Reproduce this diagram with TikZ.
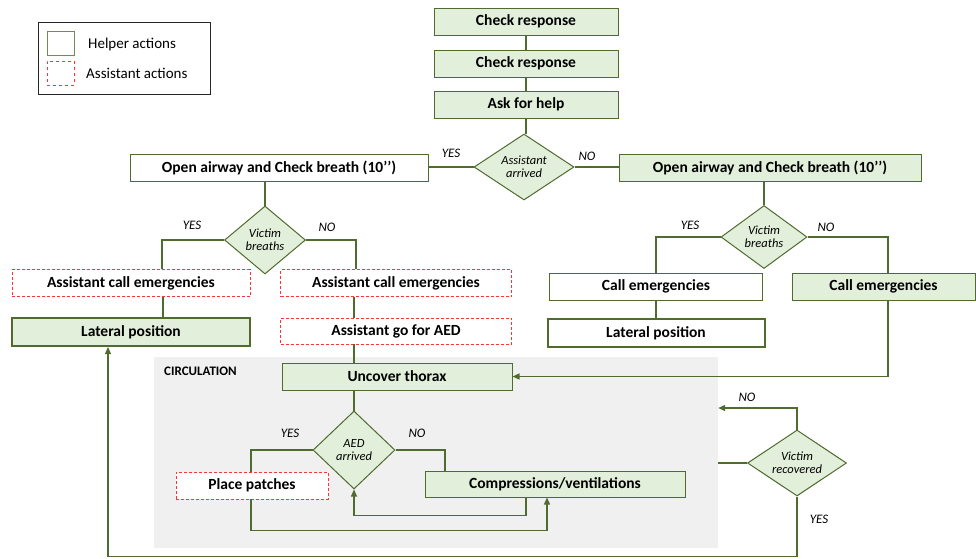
\documentclass[tikz,border=0pt]{standalone}
\usepackage{fontspec}
\setmainfont{Carlito}
\usetikzlibrary{shapes.geometric,arrows.meta}
\definecolor{edge}{HTML}{4F6B2E}
\definecolor{leaf}{HTML}{E2EFDA}
\definecolor{assist}{HTML}{FF3333}
\definecolor{panel}{HTML}{F0F0F0}
\begin{document}
\begin{tikzpicture}[x=1pt,y=-1pt,
  base/.style={rectangle, draw=edge, line width=1pt, inner sep=0pt,
    font=\bfseries\fontsize{15.5}{17}\selectfont},
  helper/.style={base, fill=leaf},
  plainbox/.style={base, fill=white},
  strong/.style={line width=2pt},
  assistbox/.style={base, draw=assist, dashed, dash pattern=on 3pt off 2pt, line width=0.8pt, fill=white},
  decision/.style={diamond, draw=edge, fill=leaf, line width=1pt, inner sep=0pt,
    align=center, font=\itshape\fontsize{12.5}{13}\selectfont},
  conn/.style={draw=edge, line width=1.3pt},
  arr/.style={conn, -{Triangle[length=7pt,width=6pt]}},
  tag/.style={font=\itshape\fontsize{13}{14}\selectfont, inner sep=0pt},
]
\useasboundingbox (0,0) rectangle (976,558);

% legend
\node (legend) [rectangle, draw=black!85, line width=0.8pt, minimum width=172, minimum height=72] at (124,58) {};
\node (lgh) [rectangle, draw=edge!80, line width=1pt, fill=white, minimum width=27, minimum height=24] at (60.5,43) {};
\node (lga) [rectangle, draw=assist, dashed, line width=0.8pt, minimum width=27, minimum height=24] at (60.5,73) {};
\node (lght) [anchor=west, font=\fontsize{15}{16}\selectfont, inner sep=0pt] at (88,44) {Helper actions};
\node (lgat) [anchor=west, font=\fontsize{15}{16}\selectfont, inner sep=0pt] at (86,73) {Assistant actions};

% circulation panel
\node (circ) [rectangle, fill=panel, minimum width=564, minimum height=191, inner sep=0pt] at (436,452.5) {};
\node (circlabel) [anchor=west, font=\bfseries\fontsize{13}{14}\selectfont, inner sep=0pt] at (164,371) {CIRCULATION};

% top sequence
\node (cr1) [helper, minimum width=184, minimum height=27] at (526,21.5) {Check response};
\node (cr2) [helper, minimum width=184, minimum height=27] at (526,63.5) {Check response};
\node (help) [helper, minimum width=184, minimum height=27] at (526,104.5) {Ask for help};
\node (aa) [decision, shape aspect=1.5, minimum width=100, minimum height=66] at (524,167) {Assistant\\arrived};

\node (oaL) [plainbox, minimum width=298, minimum height=27] at (279,167.5) {Open airway and Check breath (10’’)};
\node (oaR) [helper, minimum width=302, minimum height=27] at (770,167.5) {Open airway and Check breath (10’’)};

% left branch
\node (vbL) [decision, shape aspect=1.2, minimum width=81, minimum height=68] at (265,240) {Victim\\breaths};
\node (aceL) [assistbox, minimum width=238, minimum height=27] at (131,283) {Assistant call emergencies};
\node (latL) [helper, strong, minimum width=238, minimum height=28] at (131,332) {Lateral position};
\node (aceR) [assistbox, minimum width=231, minimum height=27] at (396,283) {Assistant call emergencies};
\node (aed) [assistbox, minimum width=231, minimum height=26] at (396,331) {Assistant go for AED};

% right branch
\node (vbR) [decision, shape aspect=1.35, minimum width=86, minimum height=63] at (764,237) {Victim\\breaths};
\node (ceR1) [plainbox, minimum width=213, minimum height=27] at (656,286.5) {Call emergencies};
\node (latR) [plainbox, strong, minimum width=217, minimum height=28] at (656,333) {Lateral position};
\node (ceR2) [helper, minimum width=183, minimum height=27] at (883.5,286.5) {Call emergencies};

% circulation
\node (unc) [helper, minimum width=230, minimum height=27] at (397,376.5) {Uncover thorax};
\node (aedq) [decision, shape aspect=1.05, minimum width=82, minimum height=78] at (354,450) {AED\\arrived};
\node (pp) [assistbox, minimum width=152, minimum height=27] at (252,485.5) {Place patches};
\node (cv) [helper, minimum width=260, minimum height=26] at (555,484) {Compressions/ventilations};
\node (vr) [decision, shape aspect=1.5, minimum width=99, minimum height=66] at (797,463) {Victim\\recovered};

% connectors
\draw[conn] (cr1.south) -- (cr2.north);
\draw[conn] (cr2.south) -- (help.north);
\draw[conn] (help.south) -- (help.south |- aa.north);
\draw[conn] (aa.west) -- (aa.west -| oaL.east);
\draw[conn] (aa.east) -- (aa.east -| oaR.west);

\draw[conn] (oaL.south -| vbL.north) -- (vbL.north);
\draw[conn] (vbL.west) -| ([xshift=31]aceL.north);
\draw[conn] (vbL.east) -| ([xshift=-40]aceR.north);
\draw[conn] ([xshift=32]aceL.south) -- ([xshift=32]latL.north);
\draw[conn] (aceR.south -| aedq.north) -- (aed.north -| aedq.north);
\draw[conn] (aed.south -| aedq.north) -- (unc.north -| aedq.north);

\draw[conn] (oaR.south -| vbR.north) -- (vbR.north);
\draw[conn] (vbR.west) -| (ceR1.north);
\draw[conn] (vbR.east) -| ([xshift=4.5]ceR2.north);
\draw[conn] (ceR1.south) -- (latR.north);
\draw[arr] ([xshift=4.5]ceR2.south) |- (unc.east);

\draw[conn] (unc.south -| aedq.north) -- (aedq.north);
\draw[conn] (aedq.west) -| ([xshift=-1]pp.north);
\draw[conn] (aedq.east) -| ([xshift=-110]cv.north);
\draw[arr] ([xshift=-29]cv.south) -- ++(0,18) -| (aedq.south);
\draw[arr] ([xshift=-1]pp.south) -- ++(0,31) -| ([xshift=-8]cv.south);

\draw[conn] (circ.east |- vr.west) -- (vr.west);
\draw[arr] (vr.north) |- ([yshift=44.5]circ.east);
\draw[arr] (vr.south) -- ++(0,60) -| ([xshift=-23]latL.south);

% branch labels
\node[tag] at (451,153) {YES};
\node[tag] at (587,156) {NO};
\node[tag] at (192,225) {YES};
\node[tag] at (327,227) {NO};
\node[tag] at (690,225) {YES};
\node[tag] at (826,227) {NO};
\node[tag] at (290,433) {YES};
\node[tag] at (417,433) {NO};
\node[tag] at (747,397) {NO};
\node[tag] at (819,519) {YES};
\end{tikzpicture}
\end{document}
